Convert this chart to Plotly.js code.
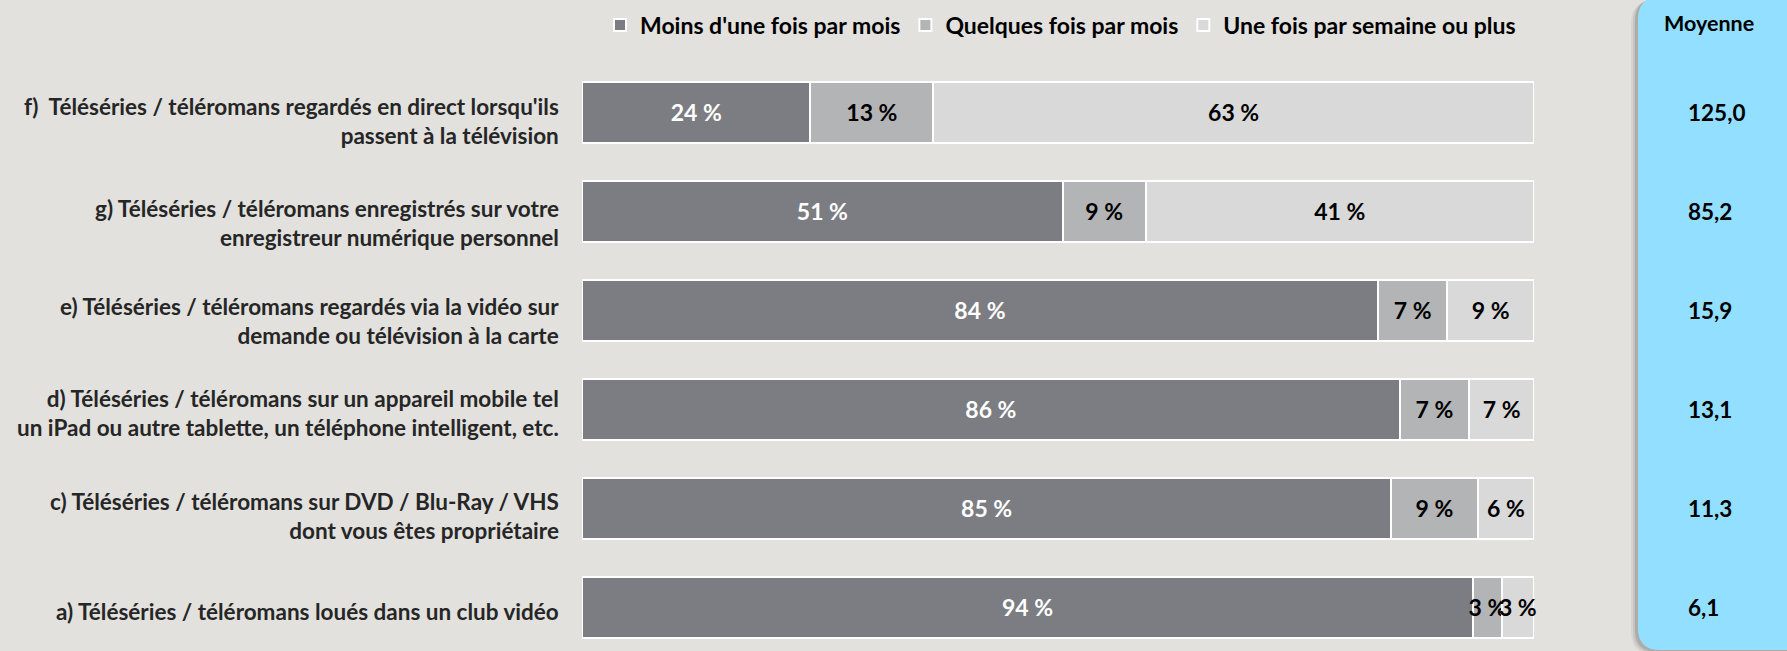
<!DOCTYPE html>
<html>
<head>
<meta charset="utf-8">
<script src="https://cdn.plot.ly/plotly-3.0.1.min.js"></script>
<style>
html, body { margin: 0; padding: 0; background: #E2E1DE; }
#chart { width: 1787px; height: 651px; }
</style>
</head>
<body>
<div id="chart"></div>
<script>
// ---- data (top row first) ----
const categories = [
  "f)  Téléséries / téléromans regardés en direct lorsqu'ils<br>passent à la télévision",
  "g) Téléséries / téléromans enregistrés sur votre<br>enregistreur numérique personnel",
  "e) Téléséries / téléromans regardés via la vidéo sur<br>demande ou télévision à la carte",
  "d) Téléséries / téléromans sur un appareil mobile tel<br>un iPad ou autre tablette, un téléphone intelligent, etc.",
  "c) Téléséries / téléromans sur DVD / Blu-Ray / VHS<br>dont vous êtes propriétaire",
  "a) Téléséries / téléromans loués dans un club vidéo"
];
const seriesNames = ["Moins d'une fois par mois", "Quelques fois par mois", "Une fois par semaine ou plus"];
const lessThanMonthly = [24.0, 50.5, 83.6, 85.9, 85.0, 93.6];
const fewTimesMonthly = [12.9, 8.7, 7.3, 7.3, 9.1, 3.0];
const weeklyOrMore    = [63.1, 40.8, 9.1, 6.8, 5.9, 3.4];
const averageTitle = "Moyenne";
const averages = [125.0, 85.2, 15.9, 13.1, 11.3, 6.1];

// ---- layout helpers ----
const W = 1787, H = 651;
const M = { l: 582, r: 253, t: 63, b: 0 };
const PW = W - M.l - M.r, PH = H - M.t - M.b;
const px = x => (x - M.l) / PW;
const py = y => (H - M.b - y) / PH;
const FONT = "Lato, 'Open Sans', sans-serif";

const colors = ["#7B7D82", "#B3B4B6", "#D9D9D9"];
const textColors = ["#FFFFFF", "#000000", "#000000"];
const series = [lessThanMonthly, fewTimesMonthly, weeklyOrMore];
const labelNudge = [9, 12, 10.5, 4, 8, 4];

const traces = series.map((vals, k) => ({
  type: "bar",
  orientation: "h",
  name: seriesNames[k],
  x: vals,
  y: categories.map((c, i) => i),
  width: 0.62,
  marker: { color: colors[k], line: { color: "#FFFFFF", width: 2 } },
  text: vals.map(v => Math.round(v) + " %"),
  textposition: "inside",
  insidetextanchor: "middle",
  textangle: 0,
  textfont: { family: FONT, size: 23, color: textColors[k], weight: 700 },
  cliponaxis: false,
  hoverinfo: "skip"
}));

function pathPx(cmds) {
  return cmds.map(c => {
    if (typeof c === "string") return c;
    return px(c[0]).toFixed(5) + "," + py(c[1]).toFixed(5);
  }).join(" ");
}
function panelPath(xL, xR, yT, yB, r) {
  return pathPx(["M", [xR, yT], "L", [xL + r, yT], "Q", [xL, yT], [xL, yT + r],
    "L", [xL, yB - r], "Q", [xL, yB], [xL + r, yB], "L", [xR, yB], "Z"]);
}

const shapes = [];
[[-7, 4, 0.05], [-5, 3, 0.08], [-3, 2, 0.12]].forEach(([dx, dy, op]) => {
  shapes.push({ type: "path", xref: "paper", yref: "paper", layer: "below",
    path: panelPath(1638 + dx, 1800, -3 + dy, 650 + dy, 22),
    fillcolor: "rgba(0,0,0," + op + ")", line: { width: 0 } });
});
shapes.push({ type: "path", xref: "paper", yref: "paper", layer: "below",
  path: panelPath(1638, 1800, -3, 650, 22),
  fillcolor: "#93DFFF", line: { width: 0 } });

const annotations = [];
categories.forEach((c, i) => {
  annotations.push({ xref: "paper", yref: "y", x: px(561), y: i, xanchor: "right", yanchor: "middle",
    align: "right", text: c, showarrow: false, yshift: -labelNudge[i],
    font: { family: FONT, size: 22.5, color: "#262626", weight: 700 } });
});
annotations.push({ xref: "paper", yref: "paper", x: px(1709), y: py(23), xanchor: "center", yanchor: "middle",
  text: averageTitle, showarrow: false, font: { family: FONT, size: 21.5, color: "#000000", weight: 700 } });
averages.forEach((v, i) => {
  annotations.push({ xref: "paper", yref: "y", x: px(1686), y: i, xanchor: "left", yanchor: "middle",
    text: v.toFixed(1).replace(".", ","), showarrow: false,
    font: { family: FONT, size: 22.5, color: "#000000", weight: 700 } });
});

const layout = {
  width: W, height: H,
  margin: M,
  paper_bgcolor: "#E2E1DE",
  plot_bgcolor: "#E2E1DE",
  barmode: "stack",
  showlegend: true,
  legend: { orientation: "h", x: px(600), xanchor: "left", y: py(25), yanchor: "middle",
    traceorder: "normal", bgcolor: "rgba(0,0,0,0)",
    font: { family: FONT, size: 23, color: "#000000", weight: 700 } },
  uniformtext: { mode: "show", minsize: 23 },
  xaxis: { range: [0, 100], visible: false, fixedrange: true },
  yaxis: { range: [5.44, -0.5], visible: false, fixedrange: true },
  shapes: shapes,
  annotations: annotations
};

Plotly.newPlot("chart", traces, layout, { displayModeBar: false, staticPlot: true });
</script>
</body>
</html>
